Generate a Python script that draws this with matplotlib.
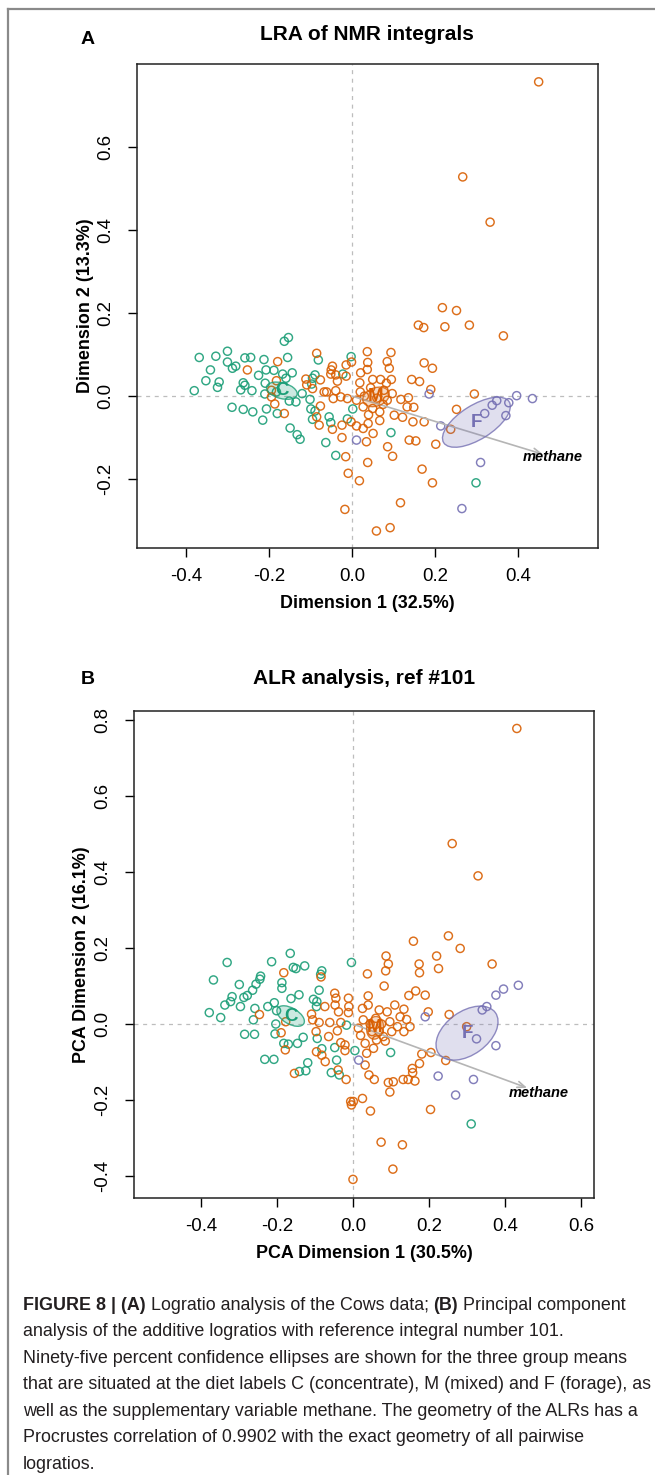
import matplotlib
matplotlib.use('Agg')
import matplotlib.pyplot as plt
from matplotlib.patches import Ellipse
from matplotlib.lines import Line2D

plt.rcParams['font.family'] = ['Liberation Sans', 'DejaVu Sans']

GREEN = '#1B9E77'
ORANGE = '#D95F02'
PURPLE = '#7570B3'

# ---------------- panel A : LRA of NMR integrals ----------------
a_conc = [(-0.153, 0.141), (-0.163, 0.132), (-0.368, 0.093), (-0.328, 0.096), (-0.300, 0.108),
          (-0.300, 0.082), (-0.258, 0.092), (-0.244, 0.093), (-0.212, 0.088), (-0.155, 0.093),
          (-0.288, 0.067), (-0.280, 0.072), (-0.341, 0.063), (-0.352, 0.037), (-0.320, 0.034),
          (-0.324, 0.021), (-0.262, 0.032), (-0.258, 0.026), (-0.268, 0.015), (-0.241, 0.013),
          (-0.380, 0.013), (-0.225, 0.050), (-0.207, 0.063), (-0.188, 0.062), (-0.167, 0.053),
          (-0.144, 0.056), (-0.159, 0.043), (-0.209, 0.031), (-0.210, 0.005), (-0.289, -0.027),
          (-0.262, -0.032), (-0.239, -0.038), (-0.215, -0.058), (-0.206, -0.031), (-0.180, -0.042),
          (-0.149, -0.077), (-0.132, -0.093), (-0.125, -0.104), (-0.095, 0.043), (-0.097, 0.029),
          (-0.120, 0.006), (-0.151, -0.012), (-0.135, -0.014), (-0.101, -0.008), (-0.099, -0.031),
          (-0.089, -0.036), (-0.095, -0.056), (-0.063, -0.112), (-0.039, -0.143), (-0.055, -0.050),
          (-0.051, -0.064), (-0.011, -0.055), (-0.002, 0.095), (0.002, -0.031), (-0.081, 0.087),
          (-0.089, 0.051), (-0.182, 0.010), (-0.022, 0.053), (0.094, -0.088), (0.299, -0.209)]
a_mixed = [(-0.179, 0.083), (-0.252, 0.063), (-0.085, 0.103), (-0.111, 0.041), (-0.109, 0.027),
           (-0.095, 0.018), (-0.076, 0.039), (-0.067, 0.010), (-0.047, 0.072), (-0.050, 0.063),
           (-0.051, 0.053), (-0.035, 0.036), (-0.014, 0.075), (-0.014, 0.048), (-0.001, 0.082),
           (-0.045, -0.006), (-0.027, -0.002), (-0.011, -0.006), (-0.039, 0.013), (-0.061, 0.010),
           (-0.182, 0.037), (-0.194, 0.014), (-0.194, -0.002), (-0.186, -0.019), (-0.163, -0.042),
           (-0.076, -0.024), (-0.085, -0.050), (-0.079, -0.070), (-0.047, -0.080), (-0.024, -0.070),
           (-0.002, -0.062), (-0.024, -0.100), (-0.015, -0.146), (-0.009, -0.186), (-0.017, -0.273),
           (-0.039, 0.051), (0.218, 0.213), (0.252, 0.206), (0.160, 0.171), (0.173, 0.165),
           (0.224, 0.167), (0.283, 0.171), (0.365, 0.145), (0.037, 0.107), (0.094, 0.105),
           (0.038, 0.081), (0.085, 0.083), (0.090, 0.067), (0.174, 0.080), (0.194, 0.067),
           (0.021, 0.056), (0.037, 0.064), (0.019, 0.032), (0.050, 0.040), (0.069, 0.040),
           (0.083, 0.031), (0.095, 0.040), (0.077, 0.014), (0.144, 0.040), (0.163, 0.035),
           (0.190, 0.016), (0.097, 0.006), (0.118, -0.008), (0.136, -0.004), (0.133, -0.026),
           (0.149, -0.027), (0.102, -0.046), (0.122, -0.051), (0.147, -0.062), (0.174, -0.062),
           (0.067, -0.038), (0.067, -0.059), (0.039, -0.066), (0.051, -0.090), (0.035, -0.110),
           (0.027, -0.078), (0.011, -0.072), (0.018, -0.204), (0.038, -0.160), (0.086, -0.122),
           (0.098, -0.145), (0.138, -0.106), (0.154, -0.108), (0.202, -0.116), (0.238, -0.080),
           (0.252, -0.032), (0.295, 0.005), (0.169, -0.176), (0.194, -0.209), (0.117, -0.257),
           (0.059, -0.325), (0.092, -0.317), (0.011, -0.010), (0.027, -0.026), (0.045, 0.020),
           (0.060, -0.005), (0.075, -0.020), (0.030, 0.000), (0.050, -0.030), (0.085, -0.010),
           (0.020, 0.010), (0.040, -0.045), (0.267, 0.528), (0.333, 0.419), (0.450, 0.757)]
a_forage = [(0.011, -0.106), (0.186, 0.005), (0.214, -0.072), (0.320, -0.042), (0.338, -0.022),
            (0.349, -0.011), (0.371, -0.047), (0.378, -0.016), (0.397, 0.001), (0.435, -0.006),
            (0.310, -0.160), (0.265, -0.271)]
# group mean ellipses: centre x, centre y, semi-axis 1, semi-axis 2, angle (deg)
a_ellipses = {'C': (-0.169, 0.013, 0.038, 0.019, -15),
              'M': (0.058, -0.002, 0.033, 0.022, 20),
              'F': (0.300, -0.063, 0.093, 0.041, 32)}
a_methane = (0.46, -0.14)

# ---------------- panel B : ALR analysis, ref #101 ----------------
b_conc = [(-0.331, 0.162), (-0.367, 0.116), (-0.378, 0.030), (-0.348, 0.017), (-0.285, -0.027),
          (-0.259, -0.027), (-0.337, 0.050), (-0.322, 0.059), (-0.318, 0.072), (-0.296, 0.046),
          (-0.299, 0.104), (-0.287, 0.070), (-0.278, 0.075), (-0.264, 0.089), (-0.255, 0.105),
          (-0.245, 0.118), (-0.243, 0.126), (-0.258, 0.041), (-0.262, 0.011), (-0.214, 0.164),
          (-0.224, 0.046), (-0.207, 0.056), (-0.201, 0.035), (-0.203, 0.000), (-0.205, -0.026),
          (-0.187, 0.109), (-0.187, 0.094), (-0.165, 0.186), (-0.157, 0.149), (-0.150, 0.146),
          (-0.127, 0.153), (-0.163, 0.067), (-0.142, 0.077), (-0.182, -0.051), (-0.170, -0.053),
          (-0.146, -0.051), (-0.131, -0.035), (-0.232, -0.093), (-0.208, -0.093), (-0.119, -0.102),
          (-0.124, -0.123), (-0.141, -0.125), (-0.082, 0.140), (-0.085, 0.131), (-0.089, 0.089),
          (-0.104, 0.065), (-0.095, 0.059), (-0.096, 0.046), (-0.094, -0.038), (-0.082, -0.065),
          (-0.048, -0.062), (-0.043, -0.095), (-0.057, -0.128), (-0.036, -0.134), (-0.004, 0.162),
          (-0.017, -0.003), (0.005, -0.070), (0.099, -0.075), (0.311, -0.263)]
b_mixed = [(-0.182, 0.135), (-0.084, 0.124), (-0.246, 0.025), (-0.189, -0.023), (-0.178, -0.068),
           (-0.154, -0.130), (-0.109, 0.026), (-0.106, 0.011), (-0.089, 0.004), (-0.074, 0.046),
           (-0.061, 0.004), (-0.048, 0.081), (-0.045, 0.068), (-0.047, 0.050), (-0.038, 0.032),
           (-0.032, 0.004), (-0.012, 0.068), (-0.011, 0.046), (-0.012, 0.030), (-0.097, -0.020),
           (-0.096, -0.073), (-0.082, -0.082), (-0.073, -0.099), (-0.064, -0.033), (-0.041, -0.018),
           (-0.032, -0.049), (-0.021, -0.055), (-0.021, -0.070), (-0.039, -0.121), (-0.018, -0.146),
           (-0.006, -0.204), (-0.004, -0.213), (-0.177, 0.006),
           (0.251, 0.232), (0.159, 0.218), (0.282, 0.199), (0.087, 0.179), (0.093, 0.158),
           (0.086, 0.140), (0.038, 0.132), (0.174, 0.158), (0.175, 0.135), (0.220, 0.179),
           (0.225, 0.146), (0.366, 0.158), (0.082, 0.100), (0.165, 0.087), (0.147, 0.075),
           (0.190, 0.076), (0.040, 0.074), (0.025, 0.041), (0.069, 0.037), (0.090, 0.032),
           (0.134, 0.039), (0.124, 0.019), (0.141, 0.012), (0.150, -0.007), (0.134, -0.020),
           (0.117, -0.007), (0.102, -0.020), (0.198, 0.032), (0.253, 0.025), (0.299, -0.007),
           (0.205, -0.075), (0.181, -0.079), (0.244, -0.096), (0.175, -0.104), (0.156, -0.117),
           (0.157, -0.128), (0.163, -0.150), (0.132, -0.146), (0.145, -0.146), (0.106, -0.152),
           (0.093, -0.154), (0.097, -0.179), (0.042, -0.134), (0.056, -0.146), (0.032, -0.051),
           (0.036, -0.077), (0.032, -0.108), (0.054, -0.064), (0.025, -0.196), (0.046, -0.229),
           (0.204, -0.225), (0.001, -0.204), (0.014, -0.011), (0.027, 0.011), (0.069, -0.020),
           (0.080, -0.033), (0.062, -0.042), (0.097, 0.006), (0.045, 0.000), (0.060, 0.015),
           (0.075, 0.000), (0.050, -0.020), (0.085, -0.045), (0.020, -0.030), (0.040, 0.050),
           (0.110, 0.050), (0.074, -0.311), (0.130, -0.318), (0.105, -0.382), (0.000, -0.409),
           (0.261, 0.475), (0.329, 0.390), (0.431, 0.778)]
b_forage = [(0.015, -0.095), (0.190, 0.019), (0.340, 0.037), (0.352, 0.046), (0.325, -0.039),
            (0.376, 0.076), (0.396, 0.092), (0.435, 0.102), (0.376, -0.057), (0.224, -0.137),
            (0.317, -0.146), (0.270, -0.187)]
b_ellipses = {'C': (-0.164, 0.021, 0.040, 0.021, -30),
              'M': (0.058, -0.010, 0.030, 0.022, 80),
              'F': (0.300, -0.024, 0.092, 0.057, 36)}
b_methane = (0.458, -0.168)

group_colors = {'C': GREEN, 'M': ORANGE, 'F': PURPLE}

W, H = 655, 1475
fig = plt.figure(figsize=(W / 100, H / 100), dpi=100)


def px_axes(left, top, right, bottom):
    return fig.add_axes([left / W, 1 - bottom / H, (right - left) / W, (bottom - top) / H])


def draw_panel(ax, groups, ellipses, methane, xlim, ylim, xticks, yticks, xlabel, ylabel, text_off):
    ax.axhline(0, color='#BDBDBD', lw=0.9, ls=(0, (3.2, 3.7)), zorder=0)
    ax.axvline(0, color='#BDBDBD', lw=0.9, ls=(0, (3.2, 3.7)), zorder=0)
    for pts, col in groups:
        ax.scatter([p[0] for p in pts], [p[1] for p in pts], s=34, facecolors='none',
                   edgecolors=col, linewidths=1.05, alpha=0.9, zorder=2)
    ax.annotate('', xy=methane, xytext=(0, 0),
                arrowprops=dict(arrowstyle='->,head_length=0.55,head_width=0.22',
                                color='#B5B5B5', lw=1.2, shrinkA=0, shrinkB=0), zorder=3)
    ax.text(methane[0] + text_off[0], methane[1] + text_off[1], 'methane', fontsize=10.5,
            fontweight='bold', fontstyle='italic', ha='center', va='center', zorder=4)
    for lab, (cx, cy, a, b, ang) in ellipses.items():
        col = group_colors[lab]
        ax.add_patch(Ellipse((cx, cy), 2 * a, 2 * b, angle=ang, facecolor=col, alpha=0.22,
                             edgecolor='none', zorder=3))
        ax.add_patch(Ellipse((cx, cy), 2 * a, 2 * b, angle=ang, facecolor='none',
                             edgecolor=col, lw=1.0, alpha=0.8, zorder=3))
        ax.text(cx, cy, lab, color=col, fontsize=13.5, fontweight='bold', ha='center',
                va='center', zorder=4)
    ax.set_xlim(*xlim)
    ax.set_ylim(*ylim)
    ax.set_xticks(xticks)
    ax.set_yticks(yticks)
    ax.set_xticklabels(['%.1f' % v if v != 0 else '0.0' for v in xticks])
    ax.set_yticklabels(['%.1f' % v if v != 0 else '0.0' for v in yticks])
    ax.tick_params(direction='out', length=6.2, width=1.0, labelsize=13.4)
    ax.tick_params(axis='x', pad=8)
    ax.tick_params(axis='y', pad=10)
    for lab in ax.get_yticklabels():
        lab.set_rotation(90)
        lab.set_va('center')
    for sp in ax.spines.values():
        sp.set_linewidth(1.1)
        sp.set_color('#222222')
    ax.set_xlabel(xlabel, fontsize=12.9, fontweight='bold')
    ax.set_ylabel(ylabel, fontsize=12.9, fontweight='bold')


ax_a = px_axes(137, 64, 598, 548)
draw_panel(ax_a, [(a_conc, GREEN), (a_mixed, ORANGE), (a_forage, PURPLE)], a_ellipses, a_methane,
           (-0.518, 0.593), (-0.366, 0.800), [-0.4, -0.2, 0.0, 0.2, 0.4],
           [-0.2, 0.0, 0.2, 0.4, 0.6], 'Dimension 1 (32.5%)', 'Dimension 2 (13.3%)', (0.025, -0.007))
ax_a.xaxis.set_label_coords(0.5, -(603 - 548) / 484)
ax_a.xaxis.label.set_va('center')
ax_a.yaxis.set_label_coords((86 - 137) / 461, 0.5)
ax_a.yaxis.label.set_va('center')

ax_b = px_axes(134, 711, 594, 1198)
draw_panel(ax_b, [(b_conc, GREEN), (b_mixed, ORANGE), (b_forage, PURPLE)], b_ellipses, b_methane,
           (-0.576, 0.634), (-0.458, 0.824), [-0.4, -0.2, 0.0, 0.2, 0.4, 0.6],
           [-0.4, -0.2, 0.0, 0.2, 0.4, 0.6, 0.8], 'PCA Dimension 1 (30.5%)',
           'PCA Dimension 2 (16.1%)', (0.031, -0.014))
ax_b.xaxis.set_label_coords(0.5, -(1253 - 1198) / 487)
ax_b.xaxis.label.set_va('center')
ax_b.yaxis.set_label_coords((81 - 134) / 460, 0.5)
ax_b.yaxis.label.set_va('center')

# titles and panel letters
fig.text(367 / W, 1 - 35 / H, 'LRA of NMR integrals', fontsize=15, fontweight='bold',
         ha='center', va='center')
fig.text(88 / W, 1 - 40 / H, 'A', fontsize=14, fontweight='bold', ha='center', va='center')
fig.text(364 / W, 1 - 678 / H, 'ALR analysis, ref #101', fontsize=15, fontweight='bold',
         ha='center', va='center')
fig.text(88 / W, 1 - 679 / H, 'B', fontsize=14, fontweight='bold', ha='center', va='center')

# frame around figure
fig.add_artist(Line2D([8 / W, 8 / W], [0, 1 - 9 / H], color='#8A8A8A', lw=1.6))
fig.add_artist(Line2D([8 / W, 1], [1 - 9 / H, 1 - 9 / H], color='#8A8A8A', lw=1.6))

# caption
caption = [
    [('FIGURE 8 | (A)', 'bold'), (' Logratio analysis of the Cows data; ', 'normal'),
     ('(B)', 'bold'), (' Principal component', 'normal')],
    [('analysis of the additive logratios with reference integral number 101.', 'normal')],
    [('Ninety-five percent confidence ellipses are shown for the three group means', 'normal')],
    [('that are situated at the diet labels C (concentrate), M (mixed) and F (forage), as', 'normal')],
    [('well as the supplementary variable methane. The geometry of the ALRs has a', 'normal')],
    [('Procrustes correlation of 0.9902 with the exact geometry of all pairwise', 'normal')],
    [('logratios.', 'normal')],
]
renderer = fig.canvas.get_renderer()
y0 = 1305
for i, line in enumerate(caption):
    x = 23
    for txt, wt in line:
        t = fig.text(x / W, 1 - (y0 + i * 26.6) / H, txt, fontsize=12.9, fontweight=wt,
                     color='#231F20', ha='left', va='center')
        x += t.get_window_extent(renderer).width

fig.savefig('out.png', dpi=100)
